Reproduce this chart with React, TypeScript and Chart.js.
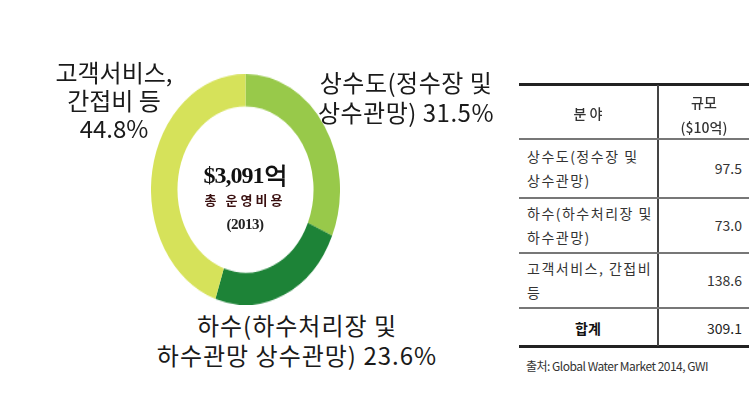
import React, { useEffect, useRef } from "react";
import { Chart, registerables } from "chart.js";

Chart.register(...registerables);

// ---- data ----
const categories = ["상수도(정수장 및 상수관망)", "하수(하수처리장 및 하수관망)", "고객서비스, 간접비 등"];
const values = [97.5, 73.0, 138.6];
const colors = ["#98C94A", "#1D8337", "#D6E25A"];
const chartLabelLines = [
  ["상수도(정수장 및", "상수관망)"],
  ["하수(하수처리장 및", "하수관망 상수관망)"],
  ["고객서비스,", "간접비 등"],
];
const tableRowLines = [
  ["상수도(정수장  및", "상수관망)"],
  ["하수(하수처리장 및", "하수관망)"],
  ["고객서비스, 간접비", "등"],
];
const centerLines = ["$3,091억", "총 운영비용", "(2013)"];
const tableHeader = ["분 야", "규모", "($10억)"];
const totalLabel = "합계";
const sourceText = "출처: Global Water Market 2014, GWI";

const total = values.reduce((a, b) => a + b, 0);
const pct = values.map((v) => ((v / total) * 100).toFixed(1) + "%");

const KR = '"Noto Sans CJK KR", "Noto Sans", sans-serif';
const SERIF = '"Liberation Serif", "DejaVu Serif", serif';

const abs = (s: React.CSSProperties): React.CSSProperties => ({ position: "absolute", ...s });

export default function App() {
  const ref = useRef<HTMLCanvasElement | null>(null);
  useEffect(() => {
    if (!ref.current) return;
    const chart = new Chart(ref.current, {
      type: "doughnut",
      data: {
        labels: categories,
        datasets: [{ data: values, backgroundColor: colors, borderWidth: 0 }],
      },
      options: {
        responsive: false,
        animation: false,
        cutout: "72%",
        layout: { padding: 0 },
        plugins: { legend: { display: false }, tooltip: { enabled: false } },
      },
    });
    return () => chart.destroy();
  }, []);

  const labelStyle: React.CSSProperties = {
    fontFamily: KR,
    fontSize: 24,
    lineHeight: "28px",
    color: "#1a1a1a",
    textAlign: "center",
    whiteSpace: "nowrap",
  };

  const cell: React.CSSProperties = {
    fontFamily: KR,
    fontSize: 14,
    color: "#333",
    whiteSpace: "nowrap",
  };

  const rowTops = [138, 197, 252];
  const rowBottoms = [197, 252, 307];

  return (
    <div style={abs({ left: 0, top: 0, width: 749, height: 404, background: "#fff", overflow: "hidden" })}>
      {/* doughnut */}
      <div style={abs({ left: 151, top: 74, width: 189, height: 189, transform: "scaleY(1.222)", transformOrigin: "top left" })}>
        <canvas ref={ref} width={189} height={189} />
      </div>

      {/* center text */}
      <div style={abs({ left: 185, top: 161, width: 120, textAlign: "center", fontFamily: SERIF, fontWeight: 700, fontSize: 24, lineHeight: "28px", color: "#111", letterSpacing: -1 })}>
        {centerLines[0]}
      </div>
      <div style={abs({ left: 183, top: 191, width: 124, textAlign: "center", fontFamily: KR, fontWeight: 700, fontSize: 13, lineHeight: "18px", color: "#3a1010", letterSpacing: 3 })}>
        {centerLines[1]}
      </div>
      <div style={abs({ left: 185, top: 214, width: 120, textAlign: "center", fontFamily: SERIF, fontWeight: 700, fontSize: 15, lineHeight: "20px", color: "#222", letterSpacing: -0.5 })}>
        {centerLines[2]}
      </div>

      {/* outside labels */}
      <div style={abs({ left: 306, top: 67, width: 200, ...labelStyle, lineHeight: "30px", letterSpacing: 0.5 })}>
        <div>{chartLabelLines[0][0]}</div>
        <div>{chartLabelLines[0][1]} {pct[0]}</div>
      </div>
      <div style={abs({ left: 122, top: 310, width: 350, ...labelStyle, lineHeight: "30px", letterSpacing: 1 })}>
        <div>{chartLabelLines[1][0]}</div>
        <div>{chartLabelLines[1][1]} {pct[1]}</div>
      </div>
      <div style={abs({ left: 44, top: 58, width: 140, ...labelStyle })}>
        <div>{chartLabelLines[2][0]}</div>
        <div>{chartLabelLines[2][1]}</div>
        <div>{pct[2]}</div>
      </div>

      {/* table lines */}
      <div style={abs({ left: 519, top: 83, width: 240, height: 3, background: "#222" })} />
      <div style={abs({ left: 519, top: 345, width: 240, height: 3, background: "#222" })} />
      <div style={abs({ left: 657, top: 85, width: 2, height: 261, background: "#444" })} />
      {[138, 197, 252, 307].map((y) => (
        <div key={y} style={abs({ left: 519, top: y, width: 240, height: 1.5, background: "#777" })} />
      ))}

      {/* header */}
      <div style={abs({ left: 519, top: 102, width: 138, textAlign: "center", ...cell, fontWeight: 500, lineHeight: "22px" })}>{tableHeader[0]}</div>
      <div style={abs({ left: 659, top: 91, width: 90, textAlign: "center", ...cell, fontWeight: 500, lineHeight: "22px" })}>{tableHeader[1]}</div>
      <div style={abs({ left: 659, top: 116, width: 90, textAlign: "center", ...cell, fontWeight: 500, lineHeight: "22px" })}>{tableHeader[2]}</div>

      {/* rows */}
      {tableRowLines.map((lines, i) => {
        const top = rowTops[i];
        const h = rowBottoms[i] - top;
        return (
          <React.Fragment key={i}>
            <div style={abs({ left: 527, top: top + (h - 48) / 2, width: 128, ...cell, lineHeight: "24px", letterSpacing: 1.5 })}>
              <div>{lines[0]}</div>
              <div>{lines[1]}</div>
            </div>
            <div style={abs({ left: 660, top: top + (h - 22) / 2, width: 82, textAlign: "right", ...cell, lineHeight: "22px" })}>
              {values[i].toFixed(1)}
            </div>
          </React.Fragment>
        );
      })}

      {/* total */}
      <div style={abs({ left: 519, top: 317, width: 138, textAlign: "center", ...cell, fontWeight: 700, color: "#111", lineHeight: "22px" })}>{totalLabel}</div>
      <div style={abs({ left: 660, top: 317, width: 82, textAlign: "right", ...cell, color: "#222", lineHeight: "22px" })}>{total.toFixed(1)}</div>

      {/* source */}
      <div style={abs({ left: 526, top: 357, ...cell, fontSize: 12, color: "#333", letterSpacing: -0.5, lineHeight: "18px" })}>{sourceText}</div>
    </div>
  );
}
